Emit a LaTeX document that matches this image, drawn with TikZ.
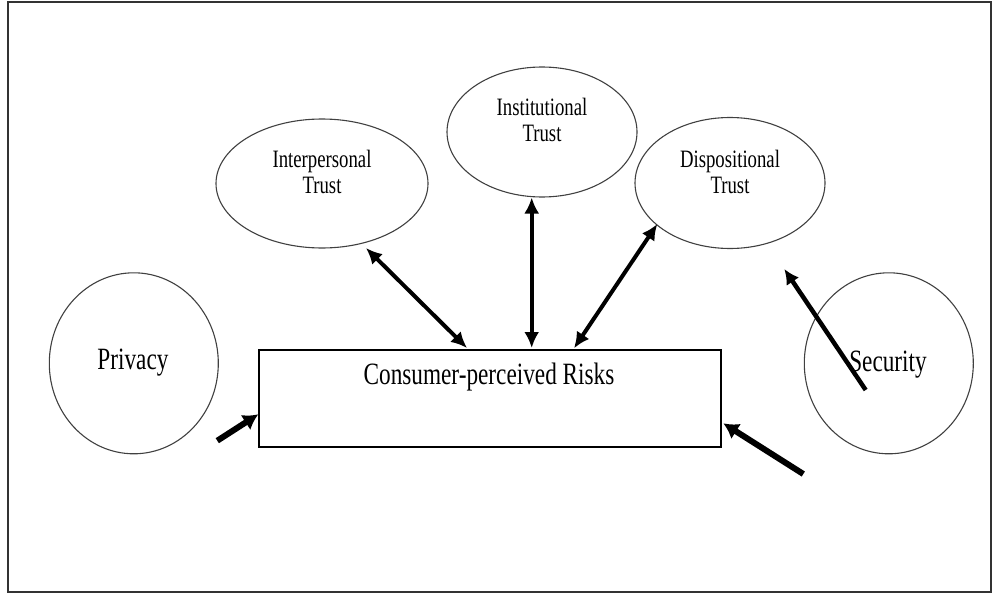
\documentclass[tikz,border=0pt]{standalone}
\usepackage{fontspec}
\setmainfont{Liberation Serif}[FakeStretch=0.75]
\usetikzlibrary{shapes.geometric,arrows.meta}
\begin{document}
\begin{tikzpicture}[x=1pt,y=-1pt,
  oval/.style={draw=black!75, line width=1.1pt, ellipse, inner sep=0pt},
  lab/.style={align=center, font=\fontsize{25}{26}\selectfont, inner sep=0pt},
  biglab/.style={font=\fontsize{31}{33}\selectfont, inner sep=0pt},
  dbl/.style={line width=4pt, {Latex[length=16pt,width=15pt]}-{Latex[length=16pt,width=15pt]}},
  one/.style={line width=6pt, -{Latex[length=15pt,width=18pt]}},
  onethin/.style={line width=4.5pt, -{Latex[length=15pt,width=15pt]}}]
\useasboundingbox (0,0) rectangle (993,594);
\node[draw=black!80, line width=2pt, minimum width=983, minimum height=590, inner sep=0pt] (frame) at (499.5,297) {};

% trust ellipses
\node[oval, minimum width=212, minimum height=129] (ip) at (322,183.5) {};
\node[lab] (iptxt) at (322,172) {Interpersonal\\Trust};
\node[oval, minimum width=190, minimum height=130] (it) at (542,132) {};
\node[lab] (ittxt) at (542,120) {Institutional\\Trust};
\node[oval, minimum width=190, minimum height=131] (dt) at (730,183) {};
\node[lab] (dttxt) at (730,172) {Dispositional\\Trust};

% privacy / security
\node[oval, minimum width=169, minimum height=181] (pr) at (133.8,363.3) {};
\node[biglab] (prtxt) at (133,363) {Privacy};
\node[oval, minimum width=169, minimum height=181] (se) at (888.8,363.3) {};
\node[biglab] (setxt) at (888,365) {Security};

% risks box
\node[draw, line width=1.5pt, minimum width=462, minimum height=97, inner sep=0pt] (risk) at (490,398.5) {};
\node[biglab] (risktxt) at (489,377) {Consumer-perceived Risks};

% connector end points
\coordinate (a1) at (366,248);
\coordinate (a2) at (467,348);
\coordinate (b1) at (531.7,197.5);
\coordinate (b2) at (531.7,348);
\coordinate (c1) at (657.3,224);
\coordinate (c2) at (574,348.3);
\coordinate (p1) at (217.3,440.7);
\coordinate (p2) at (258.3,414.3);
\coordinate (s1) at (803.3,474);
\coordinate (s2) at (723.3,423.3);
\coordinate (u1) at (865.7,390);
\coordinate (u2) at (784.3,269);

\draw[dbl] (a1) -- (a2);
\draw[dbl] (b1) -- (b2);
\draw[dbl] (c1) -- (c2);
\draw[one] (p1) -- (p2);
\draw[one] (s1) -- (s2);
\draw[onethin] (u1) -- (u2);
\end{tikzpicture}
\end{document}
